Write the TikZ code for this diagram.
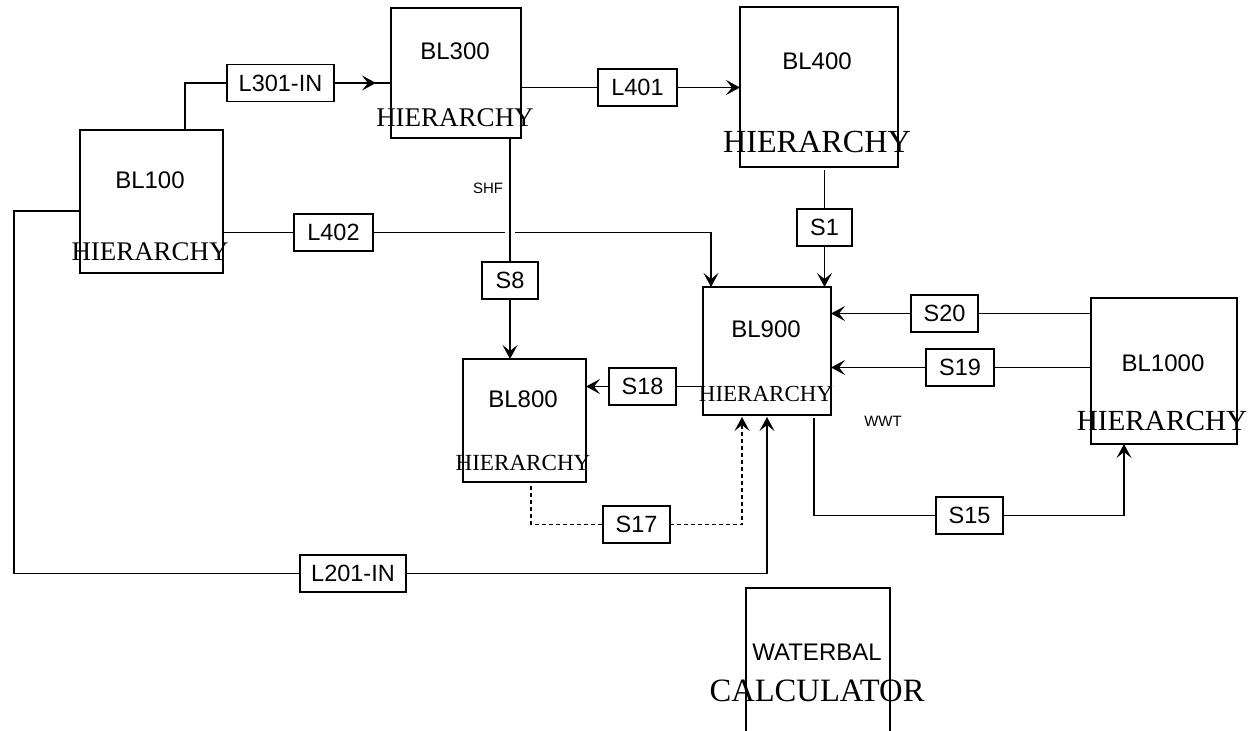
\documentclass[tikz,border=0pt]{standalone}
\usepackage{fontspec}
\setmainfont{Liberation Serif}
\setsansfont{Liberation Sans}
\usetikzlibrary{arrows.meta,calc}
\begin{document}
\begin{tikzpicture}[x=1pt,y=-1pt,
  line width=1.4pt,
  blk/.style={draw, rectangle, inner sep=0pt, outer sep=0pt},
  lbl/.style={draw, rectangle, inner sep=0pt, outer sep=0pt, minimum height=37pt, font=\sffamily\fontsize{23.5}{26}\selectfont},
  ttl/.style={inner sep=0pt, font=\sffamily\fontsize{24}{27}\selectfont},
  hier/.style={inner sep=0pt, font=\rmfamily\fontsize{#1}{#1}\selectfont},
  small/.style={inner sep=0pt, font=\sffamily\fontsize{15}{17}\selectfont},
  arr/.style={-{Stealth[length=14pt,width=15pt,inset=6pt]}},
  dsh/.style={dash pattern=on 4pt off 3pt}]
\useasboundingbox (0,0) rectangle (1251,731);
\clip (0,0) rectangle (1251,731);
% blocks
\node[blk, minimum width=143pt, minimum height=143pt] (BL100) at (151.5,201.5) {};
\node[blk, minimum width=130pt, minimum height=130pt] (BL300) at (456,73) {};
\node[blk, minimum width=158pt, minimum height=160pt] (BL400) at (819,87) {};
\node[blk, minimum width=128pt, minimum height=128pt] (BL900) at (767,351) {};
\node[blk, minimum width=123pt, minimum height=123pt] (BL800) at (524.5,420.5) {};
\node[blk, minimum width=146pt, minimum height=146pt] (BL1000) at (1164,371) {};
\node[blk, minimum width=144pt, minimum height=160pt] (WB) at (818,668) {};
% block texts
\node[ttl] (t100) at (150,180) {BL100};
\node[hier=26.9] (h100) at (150,252) {HIERARCHY};
\node[ttl] (t300) at (455,51) {BL300};
\node[hier=27] (h300) at (455,118) {HIERARCHY};
\node[ttl] (t400) at (817,61) {BL400};
\node[hier=32.2] (h400) at (817,142) {HIERARCHY};
\node[ttl] (t900) at (766,329) {BL900};
\node[hier=23] (h900) at (766,394) {HIERARCHY};
\node[ttl] (t800) at (523,399) {BL800};
\node[hier=23.1] (h800) at (523,463) {HIERARCHY};
\node[ttl] (t1000) at (1163,363) {BL1000};
\node[hier=29.2] (h1000) at (1162,421) {HIERARCHY};
\node[ttl] (tWB) at (817,652) {WATERBAL};
\node[hier=32.6] (hWB) at (817,691) {CALCULATOR};
\node[small] (shf) at (488,188) {SHF};
\node[small] (wwt) at (883,421) {WWT};
% label boxes
\node[lbl, minimum width=107pt] (L301) at (280.5,83) {L301-IN};
\node[lbl, minimum width=79pt] (L401) at (637.5,87.5) {L401};
\node[lbl, minimum width=79pt] (L402) at (333.5,232.5) {L402};
\node[lbl, minimum width=56pt] (S8) at (510,280.5) {S8};
\node[lbl, minimum width=55pt] (S1) at (824.5,227.5) {S1};
\node[lbl, minimum width=67pt] (S18) at (642.5,386.5) {S18};
\node[lbl, minimum width=67pt] (S17) at (636.5,524.5) {S17};
\node[lbl, minimum width=67pt] (S20) at (944.5,313.5) {S20};
\node[lbl, minimum width=68pt] (S19) at (960,367.5) {S19};
\node[lbl, minimum width=67pt] (S15) at (969.5,515.5) {S15};
\node[lbl, minimum width=106pt] (L201) at (353,573.5) {L201-IN};
\coordinate (lc) at (14,573.5);
% connectors
\draw ([xshift=33.5pt]BL100.north) |- (L301.west);
\draw (L301.east) -- (L301.east -| BL300.west);
\draw[arr] (L301.east) -- ([xshift=-15pt]L301.east -| BL300.west);
\draw (L401.west -| BL300.east) -- (L401.west);
\draw[arr] (L401.east) -- (L401.east -| BL400.west);
\draw[shorten <=3pt] (S1.north |- BL400.south) -- (S1.north);
\draw[arr] (S1.south) -- (S1.south |- BL900.north);
\draw (L402.west -| BL100.east) -- (L402.west);
\draw (L402.east) -- ([xshift=-5pt]L402.east -| S8.north);
\draw[arr] ([xshift=5pt]L402.east -| S8.north) -| ([xshift=-56pt]BL900.north);
\draw (S8.north |- BL300.south) -- (S8.north);
\draw[arr] (S8.south) -- (S8.south |- BL800.north);
\draw (S18.east -| BL900.west) -- (S18.east);
\draw[arr] (S18.west) -- (S18.west -| BL800.east);
\draw[dsh, shorten <=4pt] ([xshift=6.5pt]BL800.south) |- (S17.west);
\draw[dsh, arr, shorten >=2pt] (S17.east) -| ([xshift=-25pt]BL900.south);
\draw ([yshift=-9.5pt]BL100.west) -| (lc) -- (L201.west);
\draw[arr, shorten >=2pt] (L201.east) -| (BL900.south);
\draw (S20.east -| BL1000.west) -- (S20.east);
\draw[arr] (S20.west) -- (S20.west -| BL900.east);
\draw (S19.east -| BL1000.west) -- (S19.east);
\draw[arr] (S19.west) -- (S19.west -| BL900.east);
\draw[shorten <=3pt] ([xshift=47pt]BL900.south) |- (S15.west);
\draw[arr] (S15.east) -| ([xshift=-40pt]BL1000.south);
\end{tikzpicture}
\end{document}
